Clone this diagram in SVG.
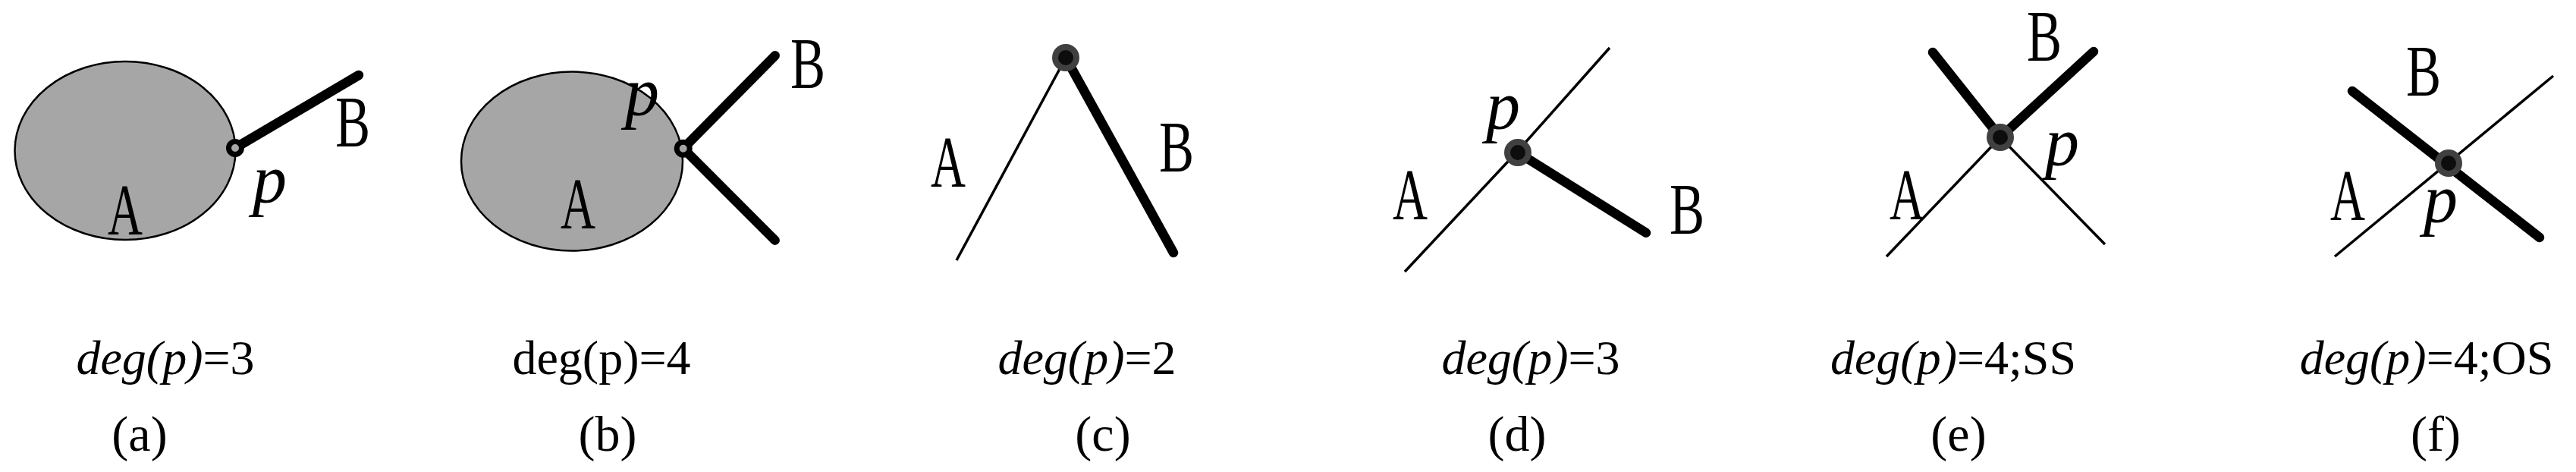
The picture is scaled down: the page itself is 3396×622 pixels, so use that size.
<svg xmlns="http://www.w3.org/2000/svg" width="3396" height="622" viewBox="0 0 3396 622">
<style>
.bg{fill:#ffffff}
.region{fill:#a6a6a6;stroke:#000;stroke-width:2.5}
.thick{stroke:#000;stroke-width:12.5;stroke-linecap:round;fill:none}
.thin{stroke:#000;stroke-width:3.5;stroke-linecap:butt;fill:none}
.ptA{fill:#a6a6a6;stroke:#000;stroke-width:7}
.ptB{fill:#0d0d0d;stroke:#404040;stroke-width:8}
text{font-family:'Liberation Serif','Times New Roman',serif;fill:#000}
.lbl{font-size:96px}
.pl{font-size:90px;font-style:italic}
.cap{font-size:64px;text-anchor:middle}
.it{font-style:italic}
.sub{font-size:66px;text-anchor:middle}
</style>
<rect class="bg" x="0" y="0" width="3396" height="622"/>

<g id="panel-a">
  <ellipse class="region" cx="165" cy="198.5" rx="145.5" ry="117.5"/>
  <g id="a-connectors">
    <line class="thick" x1="310" y1="195" x2="473" y2="99"/>
  </g>
  <circle class="ptA" cx="310" cy="195" r="8.5"/>
  <text class="lbl" x="142" y="309" textLength="46" lengthAdjust="spacingAndGlyphs">A</text>
  <text class="lbl" x="442" y="193" textLength="46" lengthAdjust="spacingAndGlyphs">B</text>
  <text class="pl" x="333" y="267">p</text>
  <text class="cap" x="218" y="493"><tspan class="it">deg(p)</tspan>=3</text>
  <text class="sub" x="184" y="594">(a)</text>
</g>

<g id="panel-b">
  <ellipse class="region" cx="754" cy="212.5" rx="146" ry="118"/>
  <g id="b-connectors">
    <line class="thick" x1="900.7" y1="195.7" x2="1021.7" y2="73.3"/>
    <line class="thick" x1="900.7" y1="195.7" x2="1021.7" y2="316.7"/>
  </g>
  <circle class="ptA" cx="900.7" cy="195.7" r="8.5"/>
  <text class="lbl" x="739" y="301" textLength="46" lengthAdjust="spacingAndGlyphs">A</text>
  <text class="lbl" x="1042" y="116" textLength="46" lengthAdjust="spacingAndGlyphs">B</text>
  <text class="pl" x="824" y="152">p</text>
  <text class="cap" x="793" y="493">deg(p)=4</text>
  <text class="sub" x="801" y="594">(b)</text>
</g>

<g id="panel-c">
  <g id="c-connectors">
    <line class="thin" x1="1405" y1="76" x2="1261" y2="343"/>
    <line class="thick" x1="1405" y1="76" x2="1547" y2="333"/>
  </g>
  <circle class="ptB" cx="1405" cy="76" r="14"/>
  <text class="lbl" x="1227" y="246" textLength="46" lengthAdjust="spacingAndGlyphs">A</text>
  <text class="lbl" x="1528" y="226" textLength="46" lengthAdjust="spacingAndGlyphs">B</text>
  <text class="cap" x="1433" y="493"><tspan class="it">deg(p)</tspan>=2</text>
  <text class="sub" x="1454" y="594">(c)</text>
</g>

<g id="panel-d">
  <g id="d-connectors">
    <polyline class="thin" points="2122,63 2000,200 1852,358"/>
    <line class="thick" x1="2001" y1="201" x2="2170" y2="306.7"/>
  </g>
  <circle class="ptB" cx="2001" cy="201" r="14"/>
  <text class="lbl" x="1836" y="289" textLength="46" lengthAdjust="spacingAndGlyphs">A</text>
  <text class="lbl" x="2201" y="308" textLength="46" lengthAdjust="spacingAndGlyphs">B</text>
  <text class="pl" x="1959" y="170">p</text>
  <text class="cap" x="2018" y="493"><tspan class="it">deg(p)</tspan>=3</text>
  <text class="sub" x="2000" y="594">(d)</text>
</g>

<g id="panel-e">
  <g id="e-connectors">
    <line class="thick" x1="2637" y1="181" x2="2548" y2="69"/>
    <line class="thick" x1="2637" y1="181" x2="2760" y2="68"/>
    <line class="thin" x1="2637" y1="181" x2="2487" y2="338"/>
    <line class="thin" x1="2637" y1="181" x2="2775" y2="322"/>
  </g>
  <circle class="ptB" cx="2637" cy="181" r="14"/>
  <text class="lbl" x="2491" y="289" textLength="46" lengthAdjust="spacingAndGlyphs">A</text>
  <text class="lbl" x="2672" y="80" textLength="46" lengthAdjust="spacingAndGlyphs">B</text>
  <text class="pl" x="2696" y="218">p</text>
  <text class="cap" x="2575" y="493"><tspan class="it">deg(p)</tspan>=4;SS</text>
  <text class="sub" x="2582" y="594">(e)</text>
</g>

<g id="panel-f">
  <g id="f-connectors">
    <line class="thin" x1="3366" y1="100" x2="3078" y2="338"/>
    <line class="thick" x1="3101" y1="120" x2="3348" y2="313"/>
  </g>
  <circle class="ptB" cx="3228" cy="215" r="14"/>
  <text class="lbl" x="3072" y="290" textLength="46" lengthAdjust="spacingAndGlyphs">A</text>
  <text class="lbl" x="3172" y="126" textLength="46" lengthAdjust="spacingAndGlyphs">B</text>
  <text class="pl" x="3195" y="293">p</text>
  <text class="cap" x="3199" y="493"><tspan class="it">deg(p)</tspan>=4;OS</text>
  <text class="sub" x="3211" y="594">(f)</text>
</g>
</svg>
